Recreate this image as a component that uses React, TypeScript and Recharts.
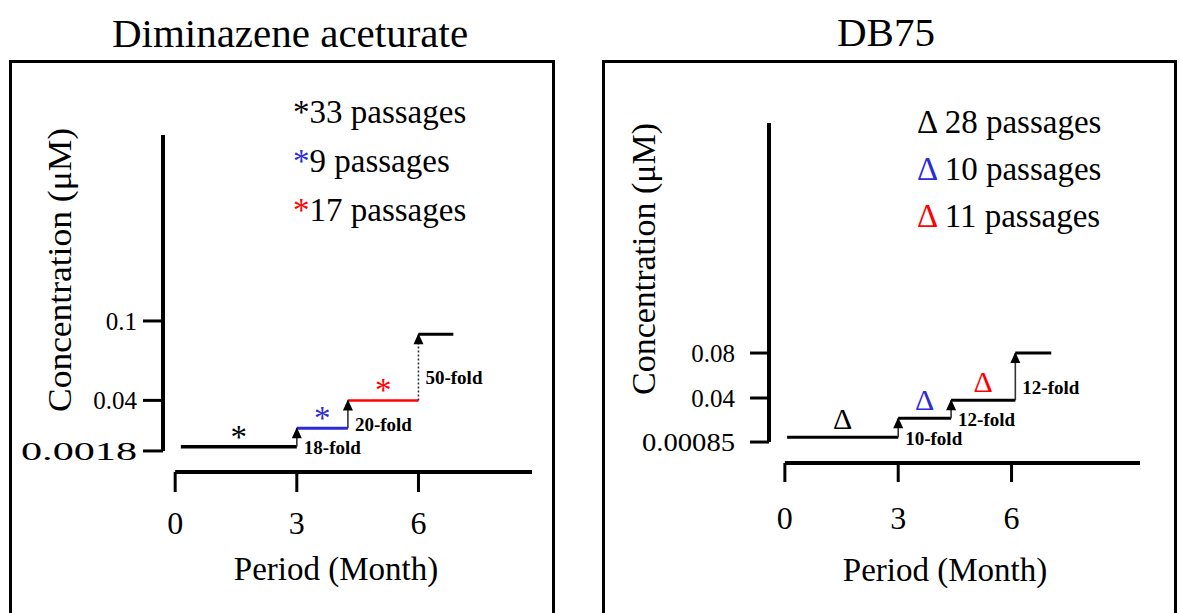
import React from 'react';
import { LineChart, Line, XAxis, YAxis, ReferenceLine, ReferenceDot } from 'recharts';

const FONT = '"Liberation Serif", "Times New Roman", Times, serif';

// Diminazene aceturate: month where each stage starts / ends, concentration of each stage (µM)
const dimMonths = [0.14, 3, 4.26, 6, 6.86];
const dimConc = [0.005, 0.019, 0.04, 0.09];
const dimFold = ['18-fold', '20-fold', '50-fold'];
const dimPassages = [33, 9, 17];
const dimTicks = [0.0018, 0.04, 0.1];

// DB75
const dbMonths = [0.06, 3, 4.4, 6.1, 7.05];
const dbConc = [0.005, 0.022, 0.038, 0.08];
const dbFold = ['10-fold', '12-fold', '12-fold'];
const dbPassages = [28, 10, 11];
const dbTicks = [0.00085, 0.04, 0.08];

const monthTicks = [0, 3, 6];

const BLUE = '#2b2bd8';
const RED = '#ff0000';

type Cfg = {
  left: number;
  margin: { top: number; right: number; bottom: number; left: number };
  xDomain: [number, number];
  yDomain: [number, number];
  xTickSize: number;
  xTickMargin: number;
  yTickSize: number;
  yTickMargin: number;
  stageColors: string[];
  stageWidths: number[];
  markColors: string[];
  symbol: string;
  symbolSize: number;
  symbolLift: number;
  riseDash: (string | undefined)[];
  stretch: Record<string, number>;
};

const dimCfg: Cfg = {
  left: 0,
  margin: { top: 135, right: 58, bottom: 81, left: 103 },
  xDomain: [-0.3, 8.8],
  yDomain: [-0.0141, 0.2405],
  xTickSize: 20,
  xTickMargin: 19,
  yTickSize: 20,
  yTickMargin: 6,
  stageColors: ['#000', BLUE, RED, '#000'],
  stageWidths: [3.5, 3, 2.5, 3],
  markColors: ['#000', BLUE, RED],
  symbol: '*',
  symbolSize: 33,
  symbolLift: -1,
  riseDash: [undefined, undefined, '2 2'],
  stretch: { '0.0018': 116 },
};

const dbCfg: Cfg = {
  left: 590,
  margin: { top: 123, right: 40, bottom: 90, left: 119 },
  xDomain: [-0.42, 9.4],
  yDomain: [-0.0178, 0.2846],
  xTickSize: 19,
  xTickMargin: 24,
  yTickSize: 19,
  yTickMargin: 15,
  stageColors: ['#000', '#000', '#000', '#000'],
  stageWidths: [3, 3, 3, 3],
  markColors: ['#000', BLUE, RED],
  symbol: 'Δ',
  symbolSize: 30,
  symbolLift: 8.5,
  riseDash: [undefined, undefined, undefined],
  stretch: { '0.00085': 93 },
};

const arrowHead = (p: any) =>
  p.index === 1 ? (
    <polygon
      key={`a${p.index}`}
      points={`${p.cx},${p.cy - 1} ${p.cx - 5},${p.cy + 10} ${p.cx + 5},${p.cy + 10}`}
      fill="#000"
    />
  ) : (
    <g key={`a${p.index}`} />
  );

const YTick = (p: any) => {
  const label = String(p.payload.value);
  const len = p.stretch[label];
  return (
    <text
      x={p.x}
      y={p.y}
      dy="0.35em"
      textAnchor="end"
      fontSize={25}
      fill="#000"
      textLength={len}
      lengthAdjust={len ? 'spacingAndGlyphs' : undefined}
    >
      {label}
    </text>
  );
};

const Panel = ({ months, conc, folds, ticks, cfg }: {
  months: number[];
  conc: number[];
  folds: string[];
  ticks: number[];
  cfg: Cfg;
}) => (
  <div style={{ position: 'absolute', left: cfg.left, top: 0 }}>
    <LineChart width={590} height={613} margin={cfg.margin}>
      <XAxis
        dataKey="m"
        type="number"
        domain={cfg.xDomain}
        allowDataOverflow
        ticks={monthTicks}
        interval={0}
        axisLine={false}
        tickLine={{ stroke: '#000', strokeWidth: 3 }}
        tickSize={cfg.xTickSize}
        tickMargin={cfg.xTickMargin}
        tick={{ fontSize: 32, fill: '#000' }}
        height={60}
      />
      <YAxis
        type="number"
        domain={cfg.yDomain}
        allowDataOverflow
        ticks={ticks}
        interval={0}
        axisLine={false}
        tickLine={{ stroke: '#000', strokeWidth: 3 }}
        tickSize={cfg.yTickSize}
        tickMargin={cfg.yTickMargin}
        tick={(p: any) => <YTick {...p} stretch={cfg.stretch} />}
        width={60}
      />
      <ReferenceLine
        segment={[{ x: cfg.xDomain[0], y: ticks[0] }, { x: cfg.xDomain[0], y: cfg.yDomain[1] }]}
        stroke="#000"
        strokeWidth={4}
        ifOverflow="visible"
      />
      <ReferenceLine
        segment={[{ x: 0, y: cfg.yDomain[0] }, { x: cfg.xDomain[1], y: cfg.yDomain[0] }]}
        stroke="#000"
        strokeWidth={4}
        ifOverflow="visible"
      />
      {conc.map((c, i) => (
        <Line
          key={`s${i}`}
          data={[{ m: months[i], c }, { m: months[i + 1], c }]}
          dataKey="c"
          stroke={cfg.stageColors[i]}
          strokeWidth={cfg.stageWidths[i]}
          dot={false}
          activeDot={false}
          isAnimationActive={false}
        />
      ))}
      {folds.map((f, i) => (
        <Line
          key={`r${i}`}
          data={[{ m: months[i + 1], c: conc[i] }, { m: months[i + 1], c: conc[i + 1] }]}
          dataKey="c"
          stroke="#333"
          strokeWidth={1.6}
          strokeDasharray={cfg.riseDash[i]}
          dot={arrowHead}
          activeDot={false}
          isAnimationActive={false}
        />
      ))}
      {folds.map((f, i) => (
        <ReferenceDot
          key={`f${i}`}
          x={months[i + 1]}
          y={(conc[i] + conc[i + 1]) / 2}
          r={0}
          ifOverflow="visible"
          shape={(p: any) => (
            <text x={p.cx + 7} y={p.cy + 17} fontSize={19} fontWeight="bold" fill="#000">
              {f}
            </text>
          )}
        />
      ))}
      {cfg.markColors.map((col, i) => (
        <ReferenceDot
          key={`k${i}`}
          x={(months[i] + months[i + 1]) / 2}
          y={conc[i]}
          r={0}
          ifOverflow="visible"
          shape={(p: any) => (
            <text
              x={p.cx}
              y={p.cy - cfg.symbolLift}
              textAnchor="middle"
              fontSize={cfg.symbolSize}
              fill={col}
            >
              {cfg.symbol}
            </text>
          )}
        />
      ))}
    </LineChart>
  </div>
);

const Legend = ({ x, y, step, passages, colors, symbol, gap }: {
  x: number;
  y: number;
  step: number;
  passages: number[];
  colors: string[];
  symbol: string;
  gap: string;
}) => (
  <>
    {passages.map((n, i) => (
      <text key={i} x={x} y={y + i * step} fontSize={33} fill="#000">
        <tspan fill={colors[i]}>{symbol}</tspan>
        {`${gap}${n} passages`}
      </text>
    ))}
  </>
);

export default function App() {
  return (
    <div
      style={{
        position: 'absolute',
        left: 0,
        top: 0,
        width: 1180,
        height: 613,
        overflow: 'hidden',
        background: '#fff',
        fontFamily: FONT,
      }}
    >
      <div style={{ position: 'absolute', left: 9, top: 60, width: 546, height: 620, border: '3px solid #000', boxSizing: 'border-box' }} />
      <div style={{ position: 'absolute', left: 602, top: 60, width: 575, height: 620, border: '3px solid #000', boxSizing: 'border-box' }} />

      <Panel months={dimMonths} conc={dimConc} folds={dimFold} ticks={dimTicks} cfg={dimCfg} />
      <Panel months={dbMonths} conc={dbConc} folds={dbFold} ticks={dbTicks} cfg={dbCfg} />

      <svg width={1180} height={613} style={{ position: 'absolute', left: 0, top: 0, pointerEvents: 'none' }}>
        <text x={290} y={47} fontSize={41} textAnchor="middle" fill="#000">Diminazene aceturate</text>
        <text x={886} y={46} fontSize={41} textAnchor="middle" fill="#000">DB75</text>

        <Legend x={293} y={123} step={49} passages={dimPassages} colors={dimCfg.markColors} symbol="*" gap="" />
        <Legend x={917} y={133} step={47} passages={dbPassages} colors={dbCfg.markColors} symbol="Δ" gap=" " />

        <text transform="translate(59,270) rotate(-90)" textAnchor="middle" dominantBaseline="central" fontSize={34} textLength={284} lengthAdjust="spacingAndGlyphs" fill="#000">
          Concentration (μM)
        </text>
        <text transform="translate(643,259) rotate(-90)" textAnchor="middle" dominantBaseline="central" fontSize={34} textLength={272} lengthAdjust="spacingAndGlyphs" fill="#000">
          Concentration (μM)
        </text>

        <text x={336} y={580} fontSize={33} textAnchor="middle" fill="#000">Period (Month)</text>
        <text x={945} y={581} fontSize={33} textAnchor="middle" fill="#000">Period (Month)</text>
      </svg>
    </div>
  );
}
